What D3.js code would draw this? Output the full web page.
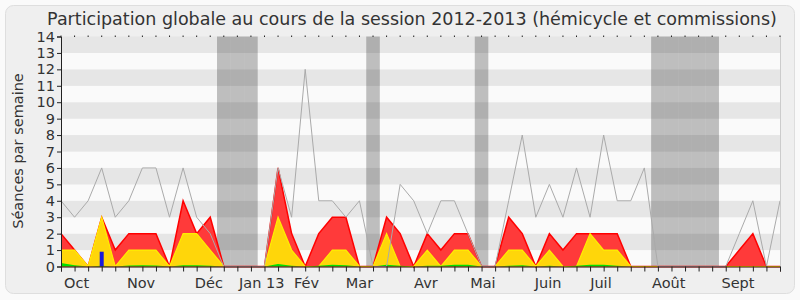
<!DOCTYPE html>
<html>
<head>
<meta charset="utf-8">
<script src="https://cdn.jsdelivr.net/npm/d3@7"></script>
<style>
  body { margin: 0; background: #fafafa; }
  svg text { font-family: "DejaVu Sans", sans-serif; fill: #333; }
</style>
</head>
<body>
<svg id="chart" width="800" height="300"></svg>
<script>
// weekly values, week 0 = first week of october 2012
const total = [4,3,4,6,3,4,6,6,3,6,3,2,0,0,0,0,6,3,12,4,4,3,4,0,0,5,4,2,4,4,2,0,0,4,8,3,5,3,6,3,8,4,4,6,0,0,0,0,0,0,2,4,0,4];
const commission = [2,1,0,3,1,2,2,2,0,4,2,3,0,0,0,0,6,2,0,2,3,3,0,0,3,2,0,2,1,2,2,0,0,3,2,0,2,1,2,2,2,2,0,0,0,0,0,0,0,0,1,2,0,0];
const hemicycle = [1,1,0,3,0,1,1,1,0,2,2,1,0,0,0,0,3,1,0,0,1,1,0,0,2,0,0,1,0,1,1,0,0,1,1,0,1,0,0,2,1,1,0,0,0,0,0,0,0,0,0,0,0,0];
const interventions = [0.22,0.08,0,0.05,0,0.06,0.08,0.06,0,0.08,0.08,0.04,0,0,0,0,0.15,0.05,0,0.05,0.1,0.08,0,0,0.1,0.04,0,0.05,0.04,0.1,0.1,0,0,0.05,0.08,0,0.04,0,0.05,0.1,0.1,0.05,0,0,0,0,0,0,0,0,0,0,0,0];
const questions = [{week: 3, value: 0.9}];
const vacances = [12,13,14,23,31,44,45,46,47,48];
const months = [["Oct",1.15],["Nov",5.9],["Déc",10.9],["Jan 13",14.8],["Fév",18.1],["Mar",22],["Avr",26.9],["Mai",31.1],["Juin",35.9],["Juil",39.8],["Août",44.8],["Sept",49.9]];

const svg = d3.select("#chart");
const weeks = d3.range(total.length);

svg.append("rect")
  .attr("x", 5.5).attr("y", 5.5)
  .attr("width", 789).attr("height", 288)
  .attr("rx", 8)
  .attr("fill", "#efefef")
  .attr("stroke", "#dedede");

const x = d3.scaleLinear().domain([0, 53]).range([61, 780]);
const y = d3.scaleLinear().domain([0, 14]).range([266.5, 36.5]);
const step = x(1) - x(0);

// stripes
svg.append("g").selectAll("rect")
  .data(d3.range(14))
  .join("rect")
  .attr("x", x(0))
  .attr("y", d => y(d + 1))
  .attr("width", x(53) - x(0))
  .attr("height", d => y(d) - y(d + 1))
  .attr("fill", d => d % 2 ? "#e6e6e6" : "#fafafa");

// holidays
svg.append("g").selectAll("rect")
  .data(vacances)
  .join("rect")
  .attr("x", d => x(d) - step / 2)
  .attr("y", y(14))
  .attr("width", step)
  .attr("height", y(0) - y(14))
  .attr("fill", "rgba(0,0,0,0.24)");

function area(vals) {
  return d3.area()
    .x((d, i) => x(i))
    .y0(y(0))
    .y1(d => y(d))(vals);
}
function line(vals) {
  return d3.line()
    .x((d, i) => x(i))
    .y(d => y(d))(vals);
}

svg.append("path").attr("d", area(commission)).attr("fill", "#ff3a3a");
svg.append("path").attr("d", line(commission)).attr("fill", "none").attr("stroke", "#ff0000").attr("stroke-width", 1.5);
svg.append("path").attr("d", area(hemicycle)).attr("fill", "#ffd60a");
svg.append("path").attr("d", line(hemicycle)).attr("fill", "none").attr("stroke", "#ffee00").attr("stroke-width", 1.2);
svg.append("path").attr("d", area(interventions)).attr("fill", "#00e000");

svg.append("g").selectAll("rect")
  .data(questions)
  .join("rect")
  .attr("x", d => x(d.week) - 2)
  .attr("y", d => y(d.value))
  .attr("width", 4)
  .attr("height", d => y(0) - y(d.value))
  .attr("fill", "#1a1adc");

svg.append("path").attr("d", line(total))
  .attr("fill", "none").attr("stroke", "#aaaaaa").attr("stroke-width", 1);

// right border
svg.append("line")
  .attr("x1", x(53) + 0.5).attr("x2", x(53) + 0.5)
  .attr("y1", y(14)).attr("y2", y(0))
  .attr("stroke", "#cccccc");

// axes
const yAxis = d3.axisLeft(y).ticks(14).tickSize(4).tickPadding(2);
const gy = svg.append("g").attr("transform", `translate(${x(0)},0)`).call(yAxis);
gy.select(".domain").attr("stroke", "#222");
gy.selectAll(".tick line").attr("stroke", "#222");
gy.selectAll("text").style("font-size", "14.5px").attr("fill", "#333");

const xAxis = d3.axisBottom(x).tickValues(weeks).tickSize(5).tickFormat("");
const gx = svg.append("g").attr("transform", `translate(0,${y(0)})`).call(xAxis);
gx.select(".domain").attr("stroke", "#330000");
gx.selectAll(".tick line").attr("stroke", "#222");

// little dots on top
svg.append("g").selectAll("rect")
  .data(weeks)
  .join("rect")
  .attr("x", d => x(d) - 0.5)
  .attr("y", y(14) - 1)
  .attr("width", 1)
  .attr("height", 1.5)
  .attr("fill", "#222");

svg.append("g").selectAll("text")
  .data(months)
  .join("text")
  .attr("x", d => x(d[1]))
  .attr("y", 288)
  .attr("text-anchor", "middle")
  .style("font-size", "14.5px")
  .text(d => d[0]);

svg.append("text")
  .attr("transform", "translate(23,151) rotate(-90)")
  .attr("text-anchor", "middle")
  .style("font-size", "14.5px")
  .text("Séances par semaine");

svg.append("text")
  .attr("x", 412)
  .attr("y", 25)
  .attr("text-anchor", "middle")
  .style("font-size", "17.5px")
  .text("Participation globale au cours de la session 2012-2013 (hémicycle et commissions)");
</script>
</body>
</html>
